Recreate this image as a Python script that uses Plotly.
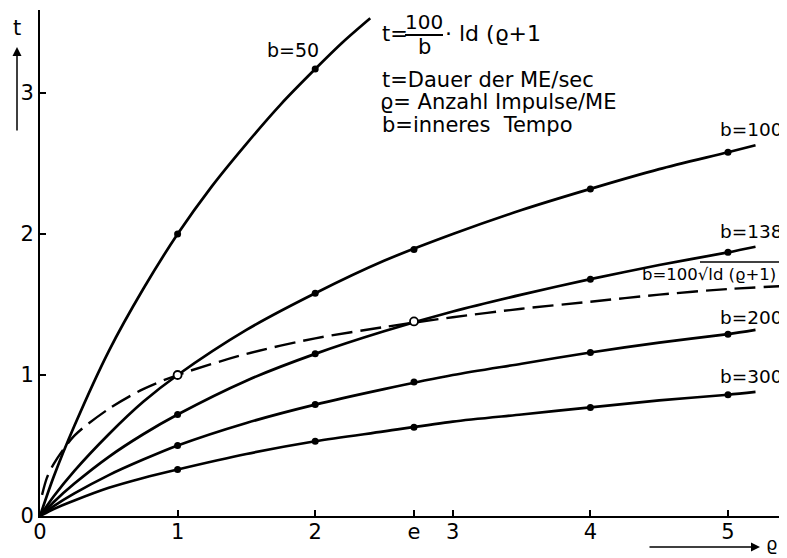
import plotly.graph_objects as go

E = 2.718

# ---- data ----
rho_b50 = [0, 0.1, 0.25, 0.5, 0.75, 1, 1.25, 1.5, 1.75, 2, 2.2, 2.4]
t_b50 = [0, 0.28, 0.64, 1.17, 1.61, 2.0, 2.34, 2.64, 2.92, 3.17, 3.36, 3.53]

rho_common = [0, 0.1, 0.25, 0.5, 0.75, 1, 1.5, 2, 2.5, 3, 3.5, 4, 4.5, 5, 5.2]
t_b100 = [0, 0.14, 0.32, 0.58, 0.81, 1.0, 1.32, 1.58, 1.81, 2.0, 2.17, 2.32, 2.46, 2.58, 2.63]
t_b138 = [0, 0.10, 0.23, 0.42, 0.58, 0.72, 0.96, 1.15, 1.31, 1.45, 1.57, 1.68, 1.78, 1.87, 1.91]
t_b200 = [0, 0.07, 0.16, 0.29, 0.40, 0.50, 0.66, 0.79, 0.90, 1.0, 1.08, 1.16, 1.23, 1.29, 1.32]
t_b300 = [0, 0.05, 0.11, 0.20, 0.27, 0.33, 0.44, 0.53, 0.60, 0.67, 0.72, 0.77, 0.82, 0.86, 0.88]

rho_dash = [0.015, 0.05, 0.1, 0.25, 0.5, 0.75, 1, 1.5, 2, 2.5, 3, 3.5, 4, 4.5, 5, 5.38]
t_dash = [0.15, 0.27, 0.37, 0.57, 0.76, 0.90, 1.0, 1.15, 1.26, 1.34, 1.41, 1.47, 1.52, 1.57, 1.61, 1.63]

# marked points
pt_b50_rho, pt_b50_t = [1, 2], [2.0, 3.17]
pt_b100_rho, pt_b100_t = [2, E, 4, 5], [1.58, 1.89, 2.32, 2.58]
pt_b138_rho, pt_b138_t = [1, 2, 4, 5], [0.72, 1.15, 1.68, 1.87]
pt_b200_rho, pt_b200_t = [1, 2, E, 4, 5], [0.50, 0.79, 0.95, 1.16, 1.29]
pt_b300_rho, pt_b300_t = [1, 2, E, 4, 5], [0.33, 0.53, 0.63, 0.77, 0.86]
open_rho, open_t = [1, E], [1.0, 1.38]

x_tickvals = [0, 1, 2, E, 3, 4, 5]
x_ticktext = ["0", "1", "2", "e", "3", "4", "5"]
y_tickvals = [0, 1, 2, 3]
y_ticktext = ["0", "1", "2", "3"]

FONT = "DejaVu Sans"
OFF = 8  # default page margin of the browser body
W, H = 787 - OFF, 558 - OFF
L, T = 40 - OFF, 10 - OFF
PW, PH = 740, 506
R, B = W - L - PW, H - T - PH
X_MAX = 5.378
Y_MAX = 3.589


def px(x):
    return (x - OFF - L) / PW


def py(y):
    return (T + PH - (y - OFF)) / PH


fig = go.Figure()

line_style = dict(color="black", width=2.7, shape="spline", smoothing=0.8)
for r, t in [(rho_b50, t_b50), (rho_common, t_b100), (rho_common, t_b138),
             (rho_common, t_b200), (rho_common, t_b300)]:
    fig.add_trace(go.Scatter(x=r, y=t, mode="lines", line=line_style,
                             hoverinfo="skip", cliponaxis=False))

fig.add_trace(go.Scatter(x=rho_dash, y=t_dash, mode="lines",
                         line=dict(color="black", width=2.4, dash="21px,8px",
                                   shape="spline", smoothing=0.8),
                         hoverinfo="skip", cliponaxis=False))

for r, t in [(pt_b50_rho, pt_b50_t), (pt_b100_rho, pt_b100_t), (pt_b138_rho, pt_b138_t),
             (pt_b200_rho, pt_b200_t), (pt_b300_rho, pt_b300_t)]:
    fig.add_trace(go.Scatter(x=r, y=t, mode="markers",
                             marker=dict(color="black", size=7),
                             hoverinfo="skip", cliponaxis=False))

fig.add_trace(go.Scatter(x=open_rho, y=open_t, mode="markers",
                         marker=dict(color="white", size=8,
                                     line=dict(color="black", width=1.8)),
                         hoverinfo="skip", cliponaxis=False))

anns = []


def txt(s, x, y, size=20, xanchor="center"):
    anns.append(dict(text=s, x=px(x), y=py(y), xref="paper", yref="paper",
                     showarrow=False, xanchor=xanchor, yanchor="middle",
                     borderpad=0,
                     font=dict(family=FONT, size=size, color="black")))


# curve labels
txt("b=50", 293, 50, size=19)
txt("b=100", 784, 130, size=18.5, xanchor="right")
txt("b=138", 784, 231, size=18.5, xanchor="right")
txt("b=100√ld (ϱ+1)", 641, 274, size=16.5, xanchor="left")
txt("b=200", 784, 317, size=18.5, xanchor="right")
txt("b=300", 784, 376, size=18.5, xanchor="right")

# formula and legend text
txt("t=", 381, 34, size=21, xanchor="left")
txt("100", 424, 22, size=20)
txt("b", 424, 47, size=21)
txt("· ld (ϱ+1", 444, 34, size=22, xanchor="left")
txt("t=Dauer der ME/sec", 381, 80, size=21, xanchor="left")
txt("ϱ= Anzahl Impulse/ME", 379, 102, size=21, xanchor="left")
txt("b=inneres  Tempo", 381, 125, size=21, xanchor="left")

# axis names
txt("t", 17, 28, size=21)
txt("ϱ", 771, 543, size=18)
# arrows
anns.append(dict(x=px(760), y=py(547), xref="paper", yref="paper", ax=-112, ay=0,
                 axref="pixel", ayref="pixel", showarrow=True, arrowhead=2,
                 arrowsize=1.2, arrowwidth=1.5, arrowcolor="black", text=""))
anns.append(dict(x=px(17), y=py(47), xref="paper", yref="paper", ax=0, ay=85,
                 axref="pixel", ayref="pixel", showarrow=True, arrowhead=2,
                 arrowsize=1.2, arrowwidth=1.5, arrowcolor="black", text=""))

shapes = [
    # fraction bar
    dict(type="line", xref="paper", yref="paper", x0=px(405), x1=px(443),
         y0=py(35), y1=py(35), line=dict(color="black", width=1.8)),
    # square-root overline
    dict(type="line", xref="paper", yref="paper", x0=px(700), x1=px(785),
         y0=py(262), y1=py(262), line=dict(color="black", width=1.5)),
]

fig.update_layout(
    width=W, height=H,
    margin=dict(l=L, r=R, t=T, b=B, autoexpand=False),
    paper_bgcolor="white", plot_bgcolor="white",
    showlegend=False,
    annotations=anns, shapes=shapes,
    font=dict(family=FONT, size=21, color="black"),
    xaxis=dict(range=[0, X_MAX], showgrid=False, zeroline=False, automargin=False,
               showline=True, linecolor="black", linewidth=2,
               tickmode="array", tickvals=x_tickvals, ticktext=x_ticktext,
               ticks="inside", ticklen=6, tickwidth=1.5, tickcolor="black",
               ticklabelstandoff=-4,
               tickfont=dict(family=FONT, size=21, color="black")),
    yaxis=dict(range=[0, Y_MAX], showgrid=False, zeroline=False, automargin=False,
               showline=True, linecolor="black", linewidth=2,
               tickmode="array", tickvals=y_tickvals, ticktext=y_ticktext,
               ticks="inside", ticklen=6, tickwidth=1.5, tickcolor="black",
               tickfont=dict(family=FONT, size=21, color="black")),
)

fig.write_html("out.html")
